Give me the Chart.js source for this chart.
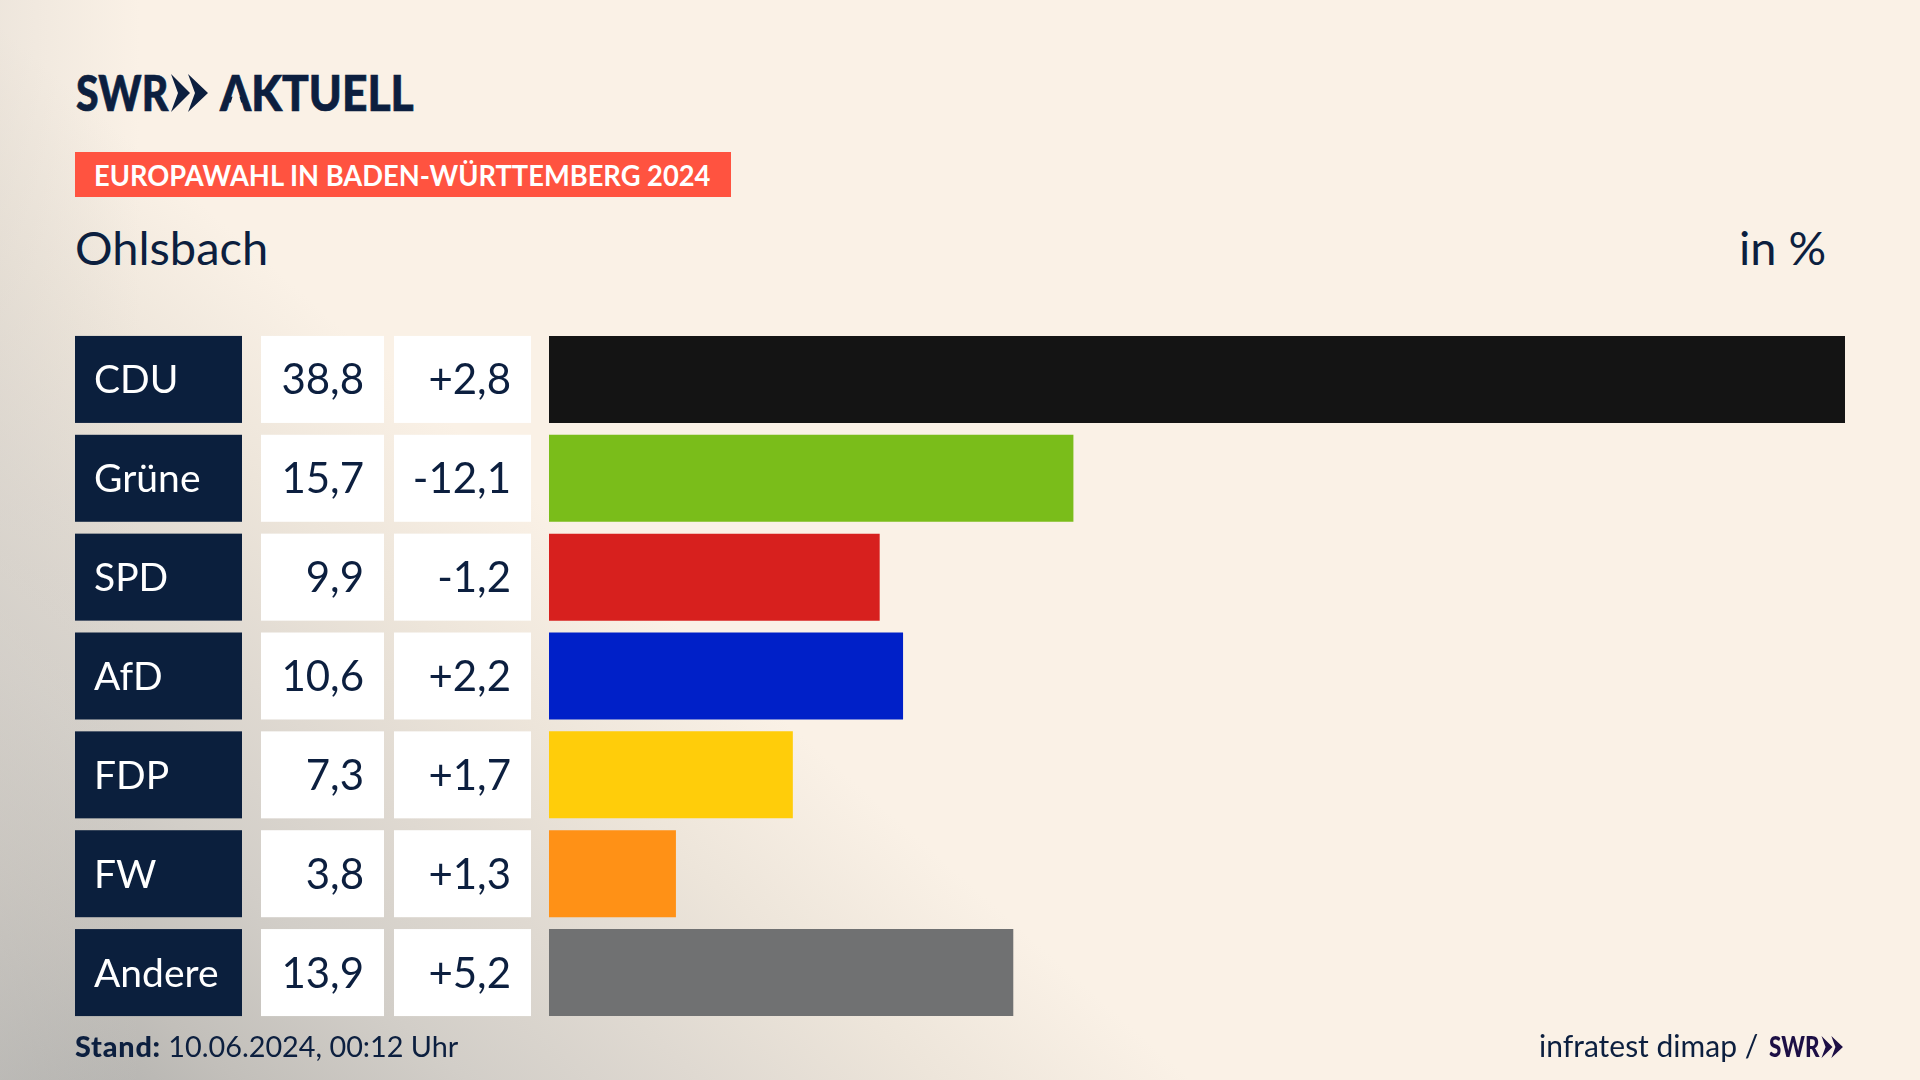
<!DOCTYPE html>
<html lang="de">
<head>
<meta charset="utf-8">
<title>Europawahl Ohlsbach</title>
<script src="https://cdn.jsdelivr.net/npm/chart.js@4"></script>
<style>
  html, body { margin: 0; width: 1920px; height: 1080px; overflow: hidden; }
  body {
    position: relative;
    font-family: Lato, sans-serif;
    color: #0c1f3f;
    background-color: #faf1e6;
    background-image:
      linear-gradient(90deg, rgba(215,210,203,.35) 0, rgba(215,210,203,0) 140px),
      linear-gradient(41.5deg, #adadab 0, #c2bfba 155px, #d2cec8 310px, #dfd9d1 465px, #ede5da 620px, #faf1e6 790px);
  }
  canvas { position: absolute; left: 0; top: 0; }
  .txt { position: absolute; white-space: nowrap; transform-origin: left top; }
  #logo1, #logo2 { font-weight: 900; font-size: 50px; top: 62px; line-height: 60px; -webkit-text-stroke: .7px #0c1f3f; }
  #logo1 { left: 76px; transform: scaleX(.82); }
  #logo2 { left: 220px; transform: scaleX(.888); }
  #tag { left: 75px; top: 152px; width: 656px; height: 45px; background: #ff5340; }
  #tagtxt { left: 94px; top: 157px; font-size: 28px; line-height: 36px; font-weight: 700; color: #fff; transform: scaleX(.975); }
  #place { left: 75px; top: 219px; font-size: 47px; line-height: 56px; }
  #unit { left: 1739px; top: 219px; font-size: 47px; line-height: 56px; }
  #stand { left: 75px; top: 1029px; font-size: 28.8px; line-height: 34px; }
  #stand b { font-weight: 900; letter-spacing: .8px; }
  #source { left: 1539px; top: 1028px; font-size: 30px; line-height: 34px; }
  #swr2 { left: 1769px; top: 1029px; font-size: 28px; line-height: 34px; font-weight: 900; color: #1d0f45; transform: scaleX(.8); }
  svg { position: absolute; }
</style>
</head>
<body>
<div class="txt" id="logo1">SWR</div>
<svg style="left:171px;top:74px" width="38" height="38" viewBox="0 0 38 38" fill="#0c1f3f"><path d="M0 0 L19 19 L0 38 L7 19 Z M17 0 L37 19 L17 38 L24 19 Z"/></svg>
<div class="txt" id="logo2">AKTUELL</div>
<svg style="left:220px;top:85px" width="32" height="27" viewBox="0 0 32 27" fill="#faf1e6"><path d="M16 0 L24 27 L8 27 Z"/></svg>
<div class="txt" id="tag"></div>
<div class="txt" id="tagtxt">EUROPAWAHL IN BADEN-WÜRTTEMBERG 2024</div>
<div class="txt" id="place">Ohlsbach</div>
<div class="txt" id="unit">in %</div>
<canvas id="grafico" width="1920" height="1080"></canvas>
<div class="txt" id="stand"><b>Stand:</b> 10.06.2024, 00:12 Uhr</div>
<div class="txt" id="source">infratest dimap /</div>
<div class="txt" id="swr2">SWR</div>
<svg style="left:1820px;top:1036px" width="25" height="22" viewBox="0 0 38 38" fill="#1d0f45"><path d="M0 0 L19 19 L0 38 L7 19 Z M17 0 L37 19 L17 38 L24 19 Z"/></svg>
<script>
const parteien = ['CDU', 'Grüne', 'SPD', 'AfD', 'FDP', 'FW', 'Andere']
const anteile = [38.8, 15.7, 9.9, 10.6, 7.3, 3.8, 13.9]
const veraenderung = [2.8, -12.1, -1.2, 2.2, 1.7, 1.3, 5.2]
const farben = ['#141414', '#7abd1a', '#d7201e', '#0020c8', '#ffcd0a', '#ff9116', '#707172']

const komma = (v) => v.toFixed(1).replace('.', ',')
const mitVorzeichen = (v) => (v > 0 ? '+' : '') + komma(v)

// kaestchen links von den balken, y kommt aus den balken selbst
const tabelle = {
  id: 'tabelle',
  afterDatasetsDraw(chart) {
    const { ctx } = chart
    ctx.save()
    ctx.textBaseline = 'alphabetic'
    chart.getDatasetMeta(0).data.forEach((bar, i) => {
      const top = bar.y - bar.height / 2
      ctx.fillStyle = '#0b1f3d'
      ctx.fillRect(75, top, 167, bar.height)
      ctx.fillStyle = '#fff'
      ctx.fillRect(261, top, 123, bar.height)
      ctx.fillRect(394, top, 137, bar.height)

      ctx.font = '39px Lato'
      ctx.textAlign = 'left'
      ctx.fillText(parteien[i], 94, bar.y + 14)

      ctx.fillStyle = '#0c1f3f'
      ctx.font = '42px Lato'
      ctx.textAlign = 'right'
      ctx.fillText(komma(anteile[i]), 364, bar.y + 15)
      ctx.fillText(mitVorzeichen(veraenderung[i]), 511, bar.y + 15)
    })
    ctx.restore()
  }
}

new Chart(document.getElementById('grafico'), {
  type: 'bar',
  data: {
    labels: parteien,
    datasets: [{
      data: anteile,
      backgroundColor: farben,
      barPercentage: 0.88,
      categoryPercentage: 1
    }]
  },
  options: {
    indexAxis: 'y',
    responsive: false,
    animation: false,
    devicePixelRatio: 1,
    layout: { padding: { left: 549, right: 75, top: 330, bottom: 58 } },
    plugins: { legend: { display: false }, tooltip: { enabled: false } },
    scales: {
      x: { display: false, min: 0, max: 38.8 },
      y: { display: false }
    }
  },
  plugins: [tabelle]
})
</script>
</body>
</html>
